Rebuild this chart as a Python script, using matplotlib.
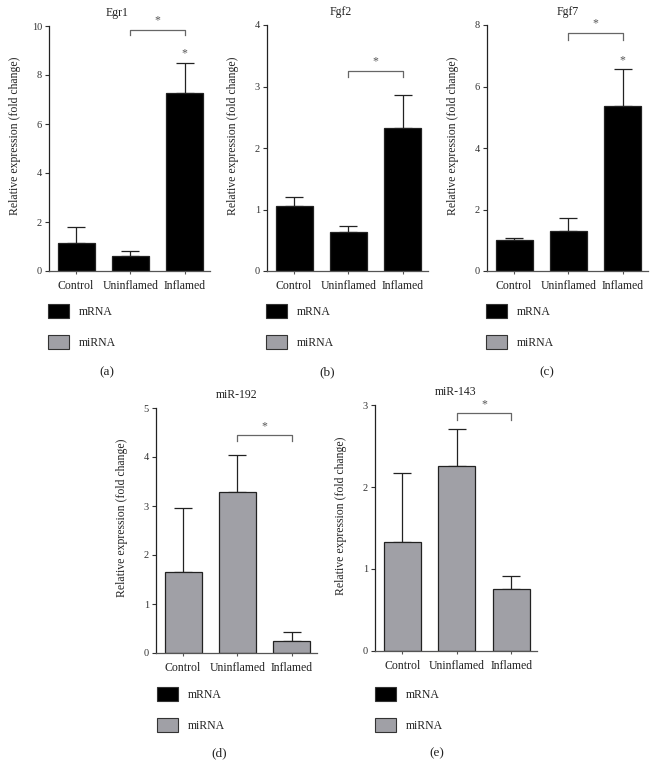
import matplotlib
matplotlib.use("Agg")
import matplotlib.pyplot as plt
from matplotlib.patches import Patch

plt.rcParams['font.family'] = ['Liberation Serif', 'DejaVu Serif']

# data
groups = ["Control", "Uninflamed", "Inflamed"]
titles = ["Egr1", "Fgf2", "Fgf7", "miR-192", "miR-143"]
panel_tags = ["(a)", "(b)", "(c)", "(d)", "(e)"]

egr1_mean = [1.15, 0.62, 7.25]
egr1_sem = [0.65, 0.18, 1.25]
fgf2_mean = [1.05, 0.64, 2.32]
fgf2_sem = [0.15, 0.09, 0.54]
fgf7_mean = [1.00, 1.30, 5.37]
fgf7_sem = [0.07, 0.43, 1.20]
mir192_mean = [1.65, 3.28, 0.25]
mir192_sem = [1.31, 0.76, 0.18]
mir143_mean = [1.33, 2.26, 0.76]
mir143_sem = [0.84, 0.45, 0.16]

y_max = [10, 4, 8, 5, 3]
y_step = [2, 1, 2, 1, 1]
is_mirna = [False, False, False, True, True]

# significance bracket height (between Uninflamed and Inflamed), star over Inflamed
bracket_y = [9.85, 3.26, 7.75, 4.44, 2.90]
bracket_drop = [0.22, 0.11, 0.25, 0.12, 0.08]
extra_star_y = [8.9, None, 6.85, None, None]

means = [egr1_mean, fgf2_mean, fgf7_mean, mir192_mean, mir143_mean]
sems = [egr1_sem, fgf2_sem, fgf7_sem, mir192_sem, mir143_sem]

BLACK = "#000000"
GREY = "#a0a0a6"

W, H = 660, 780
fig = plt.figure(figsize=(W / 100, H / 100), dpi=100)

def px_axes(left, top, right, bottom):
    return fig.add_axes([left / W, 1 - bottom / H, (right - left) / W, (bottom - top) / H])

# pixel boxes of each plot area (left, top, right, bottom)
boxes = [(49, 26, 210, 271), (267, 25, 428, 271), (487, 25, 648, 271),
         (156, 408, 317, 653), (375, 405, 537, 651)]
title_x = [0.42, 0.46, 0.5, 0.5, 0.5]
legend_pos = [(48, 304), (266, 304), (486, 304), (157, 687), (375, 687)]
tag_pos = [(107, 372), (327, 372), (547, 372), (219, 753), (437, 753)]

for i in range(5):
    ax = px_axes(*boxes[i])
    color = GREY if is_mirna[i] else BLACK
    x = range(len(groups))
    ax.bar(x, means[i], width=0.68, color=color, edgecolor="#222222", linewidth=0.9, zorder=2)
    ax.errorbar(x, means[i], yerr=[[0, 0, 0], sems[i]], fmt="none", ecolor="#222222",
                elinewidth=0.9, capsize=6.5, capthick=0.9, zorder=1)
    ax.set_xlim(-0.5, 2.47)
    ax.set_ylim(0, y_max[i])
    ax.set_yticks(range(0, y_max[i] + 1, y_step[i]))
    ax.set_xticks(list(x))
    ax.set_xticklabels(groups, fontsize=8.5)
    ax.tick_params(axis="y", labelsize=7.5, length=3, width=0.8, colors="#333333", pad=2)
    ax.tick_params(axis="x", length=2.5, width=0.8, colors="#555555", pad=4)
    for lab in ax.get_xticklabels():
        lab.set_color("#222222")
    for s in ["top", "right"]:
        ax.spines[s].set_visible(False)
    ax.spines["left"].set_color("#222222")
    ax.spines["bottom"].set_color("#555555")
    ax.spines["left"].set_linewidth(0.9)
    ax.spines["bottom"].set_linewidth(0.9)
    ax.set_ylabel("Relative expression (fold change)", fontsize=8.5, color="#222222")
    ax.yaxis.set_label_coords(-0.175, 0.55)
    ax.text(title_x[i], 1.0 + 13 / 245, titles[i], transform=ax.transAxes,
            ha="center", va="center", fontsize=8.5, color="#222222")

    # bracket Uninflamed -> Inflamed
    yb = bracket_y[i]
    yd = yb - bracket_drop[i]
    ax.plot([1, 1, 2, 2], [yd, yb, yb, yd], color="#666666", linewidth=0.9, clip_on=False)
    ax.text(1.5, yb + y_max[i] * 0.012, "*", ha="center", va="bottom", fontsize=8.5,
            color="#555555", clip_on=False)
    if extra_star_y[i] is not None:
        ax.text(2, extra_star_y[i], "*", ha="center", va="center", fontsize=8.5, color="#555555")

    # legend below each panel
    handles = [Patch(facecolor=BLACK, edgecolor="#333333", linewidth=0.8, label="mRNA"),
               Patch(facecolor=GREY, edgecolor="#333333", linewidth=0.8, label="miRNA")]
    lx, ly = legend_pos[i]
    fig.legend(handles=handles, loc="upper left", bbox_to_anchor=(lx / W, 1 - ly / H),
               frameon=False, fontsize=8.5, handlelength=1.8, handleheight=1.45,
               handletextpad=0.8, labelspacing=1.45, borderpad=0, borderaxespad=0,
               labelcolor="#222222")
    tx, ty = tag_pos[i]
    fig.text(tx / W, 1 - ty / H, panel_tags[i], ha="center", va="center", fontsize=9.5,
             color="#222222")

fig.savefig("out.png", dpi=100)
